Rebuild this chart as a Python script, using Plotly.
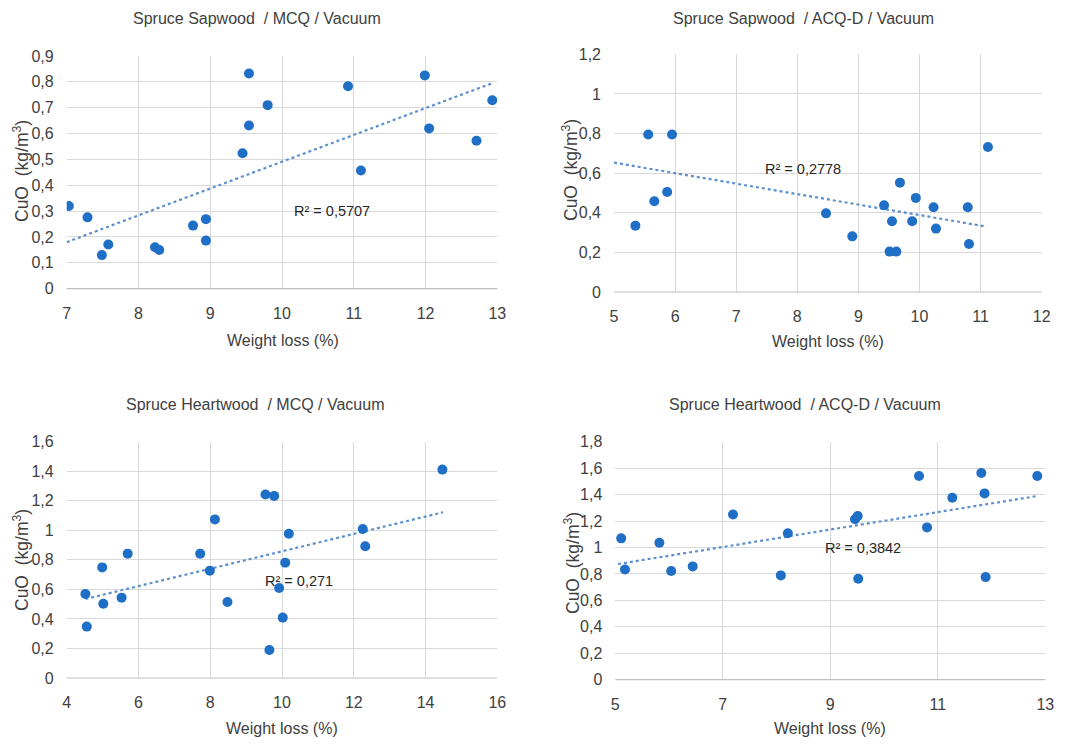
import plotly.graph_objects as go

# rendered figure fits inside the 1089x745 window minus the 8px page margin
W, H = 1073, 729
OFF = 8

# ---------------- data ----------------
titles = ["Spruce Sapwood  / MCQ / Vacuum", "Spruce Sapwood  / ACQ-D / Vacuum",
          "Spruce Heartwood  / MCQ / Vacuum", "Spruce Heartwood  / ACQ-D / Vacuum"]

p1_x = [7.03, 7.29, 7.49, 7.58, 8.23, 8.29, 8.76, 8.94, 8.94, 9.45, 9.54, 9.54, 9.80, 10.92, 11.10, 11.99, 12.05, 12.71, 12.93]
p1_y = [0.32, 0.276, 0.13, 0.171, 0.16, 0.15, 0.244, 0.269, 0.186, 0.524, 0.832, 0.631, 0.71, 0.783, 0.457, 0.825, 0.62, 0.572, 0.729]
p1_trend_x = [7.0, 12.93]
p1_trend_y = [0.18, 0.795]
p1_r2 = "R² = 0,5707"

p2_x = [5.35, 5.56, 5.66, 5.87, 5.95, 8.47, 8.90, 9.42, 9.51, 9.55, 9.62, 9.68, 9.88, 9.94, 10.23, 10.27, 10.79, 10.81, 11.12]
p2_y = [0.335, 0.795, 0.458, 0.505, 0.795, 0.397, 0.281, 0.438, 0.204, 0.357, 0.204, 0.552, 0.357, 0.475, 0.428, 0.32, 0.428, 0.242, 0.732]
p2_trend_x = [5.0, 11.1]
p2_trend_y = [0.653, 0.33]
p2_r2 = "R² = 0,2778"

p3_x = [4.52, 4.56, 4.99, 5.02, 5.53, 5.70, 7.72, 7.99, 8.13, 8.48, 9.54, 9.78, 9.65, 9.92, 10.02, 10.09, 10.19, 12.25, 12.32, 14.47]
p3_y = [0.569, 0.348, 0.749, 0.503, 0.544, 0.842, 0.842, 0.727, 1.074, 0.515, 1.242, 1.233, 0.19, 0.609, 0.409, 0.781, 0.977, 1.009, 0.892, 1.411]
p3_trend_x = [4.52, 14.49]
p3_trend_y = [0.535, 1.122]
p3_r2 = "R² = 0,271"

p4_x = [5.11, 5.18, 5.82, 6.04, 6.44, 7.19, 8.08, 8.21, 9.46, 9.51, 9.52, 10.65, 10.80, 11.27, 11.81, 11.87, 11.89, 12.85]
p4_y = [1.069, 0.834, 1.036, 0.822, 0.857, 1.25, 0.789, 1.107, 1.213, 1.238, 0.764, 1.54, 1.152, 1.376, 1.563, 1.409, 0.776, 1.54]
p4_trend_x = [5.05, 12.86]
p4_trend_y = [0.875, 1.39]
p4_r2 = "R² = 0,3842"

x_ranges = [(7, 13, 1), (5, 12, 1), (4, 16, 2), (5, 13, 2)]
y_ranges = [(0, 0.9, 0.1), (0, 1.2, 0.2), (0, 1.6, 0.2), (0, 1.8, 0.2)]
r2_pos = [(10.69, 0.30), (8.1, 0.62), (10.47, 0.657), (9.61, 0.993)]

# ---------------- layout (window pixel geometry) ----------------
areas = [(66.7, 497.3, 56.0, 288.7), (614.0, 1041.7, 54.3, 292.0),
         (66.7, 497.3, 441.7, 678.0), (615.3, 1045.3, 441.7, 679.7)]
title_pos = [(257, 18), (803, 18), (255, 404), (805, 404)]
xtitle_pos = [(283, 340), (828, 341), (282, 728), (830, 728)]
ytitle_pos = [(21, 171), (570, 170), (21, 560), (572, 563)]

FONT = "Liberation Sans Narrow, Arial Narrow, Liberation Sans, Arial"
TXT = "#404040"
DOT = "#1F6FC6"
TREND = "#5B8FCF"
GRID = "#D9D9D9"

def px(x):
    return (x - OFF) / W

def py(y):
    return 1 - (y - OFF) / H

fig = go.Figure()
data = [(p1_x, p1_y, p1_trend_x, p1_trend_y, p1_r2),
        (p2_x, p2_y, p2_trend_x, p2_trend_y, p2_r2),
        (p3_x, p3_y, p3_trend_x, p3_trend_y, p3_r2),
        (p4_x, p4_y, p4_trend_x, p4_trend_y, p4_r2)]

annotations = []
for i, (xs, ys, tx, ty, r2) in enumerate(data):
    n = "" if i == 0 else str(i + 1)
    xa, ya = "x" + n, "y" + n
    fig.add_trace(go.Scatter(x=tx, y=ty, mode="lines", xaxis=xa, yaxis=ya,
                             line=dict(color=TREND, width=2.2, dash="dot"),
                             showlegend=False, hoverinfo="skip"))
    fig.add_trace(go.Scatter(x=xs, y=ys, mode="markers", xaxis=xa, yaxis=ya,
                             marker=dict(color=DOT, size=10), showlegend=False))
    l, r, t, b = areas[i]
    x0, x1, dx = x_ranges[i]
    y0, y1, dy = y_ranges[i]
    common = dict(showgrid=True, gridcolor=GRID, gridwidth=1, zeroline=False,
                  ticks="", showline=False, automargin=False,
                  tickfont=dict(family=FONT, size=16, color=TXT))
    fig.update_layout(**{
        "xaxis" + n: dict(domain=[px(l), px(r)], range=[x0, x1], dtick=dx, tick0=x0,
                          anchor=ya, ticklabelstandoff=13, **common),
        "yaxis" + n: dict(domain=[py(b), py(t)], range=[y0, y1], dtick=dy, tick0=0,
                          anchor=xa, ticklabelstandoff=12, **common),
    })
    fig.add_shape(type="line", xref=xa + " domain", yref=ya + " domain",
                  x0=0, x1=1, y0=0, y1=0, line=dict(color="#BFBFBF", width=1.2))
    annotations.append(dict(text=titles[i], x=px(title_pos[i][0]), y=py(title_pos[i][1]),
                            xref="paper", yref="paper", showarrow=False,
                            xanchor="center", yanchor="middle",
                            font=dict(family=FONT, size=16, color=TXT)))
    annotations.append(dict(text="Weight loss (%)", x=px(xtitle_pos[i][0]), y=py(xtitle_pos[i][1]),
                            xref="paper", yref="paper", showarrow=False,
                            xanchor="center", yanchor="middle",
                            font=dict(family=FONT, size=16, color=TXT)))
    annotations.append(dict(text="CuO  (kg/m<sup>3</sup>)", x=px(ytitle_pos[i][0]), y=py(ytitle_pos[i][1]),
                            xref="paper", yref="paper", showarrow=False, textangle=-90,
                            xanchor="center", yanchor="middle",
                            font=dict(family=FONT, size=17.5, color=TXT)))
    annotations.append(dict(text=r2, x=r2_pos[i][0], y=r2_pos[i][1], xref=xa, yref=ya,
                            showarrow=False, xanchor="center", yanchor="middle",
                            font=dict(family=FONT, size=14.5, color="#262626")))

fig.update_layout(width=W, height=H, margin=dict(l=0, r=0, t=0, b=0),
                  paper_bgcolor="white", plot_bgcolor="white",
                  separators=", ", annotations=annotations)

fig.write_html("out.html")
